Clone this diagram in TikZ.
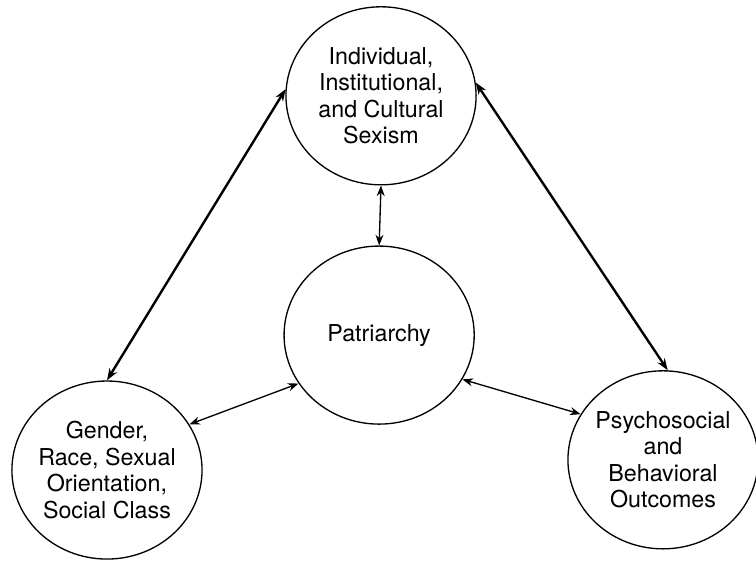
\documentclass[tikz,border=0pt]{standalone}
\usepackage{fontspec}
\setmainfont{TeX Gyre Heros}
\usetikzlibrary{arrows.meta,shapes.geometric}

\tikzset{
    bubble/.style={draw, ellipse, line width=1pt, minimum width=5.03cm, minimum height=4.71cm,
        inner sep=-6pt, align=center, font=\fontsize{17.5}{20}\selectfont},
    link/.style={{Stealth[length=8pt,width=6pt]}-{Stealth[length=8pt,width=6pt]}, line width=1pt},
    biglink/.style={{Stealth[length=9pt,width=6.5pt]}-{Stealth[length=9pt,width=6.5pt]}, line width=1.8pt}
}

\begin{document}
\begin{tikzpicture}
    \useasboundingbox (0,0) rectangle (20,14.815);

    % The four circles
    \node[bubble] (sexism) at (10.08,12.28) {Individual,\\Institutional,\\and Cultural\\Sexism};
    \node[bubble] (patriarchy) at (10.03,5.95) {Patriarchy};
    \node[bubble] (identity) at (2.83,2.38) {Gender,\\Race, Sexual\\Orientation,\\Social Class};
    \node[bubble] (outcomes) at (17.54,2.65) {Psychosocial\\and\\Behavioral\\Outcomes};

    % Outer triangle
    \draw[biglink] (identity.north) -- (sexism.176);
    \draw[biglink] (sexism.8) -- (outcomes.87);

    % Links to the centre
    \draw[link] (sexism.south) -- (patriarchy.north);
    \draw[link] (identity.29) -- (patriarchy.211);
    \draw[link] (patriarchy.332) -- (outcomes.151);
\end{tikzpicture}
\end{document}
